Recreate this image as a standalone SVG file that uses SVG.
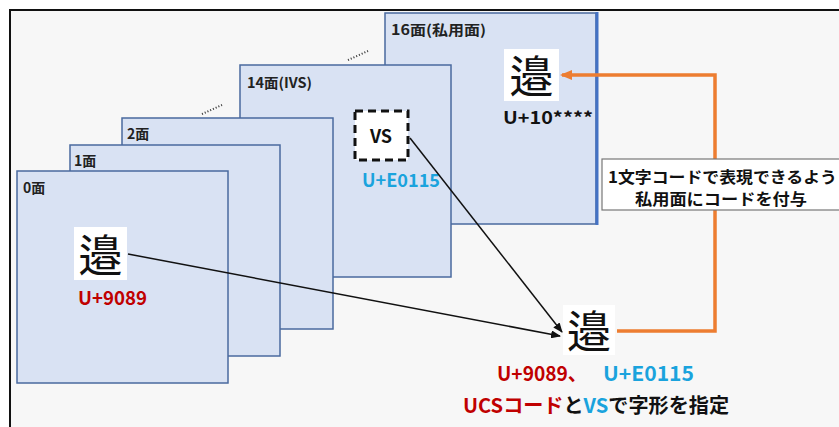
<svg xmlns="http://www.w3.org/2000/svg" width="839" height="427" viewBox="0 0 839 427">
<style>
.plane{fill:#d9e2f3;stroke:#4a6a9f;stroke-width:1.5}
.lbl{font-family:"Noto Sans CJK JP","Liberation Sans",sans-serif;font-weight:bold;font-size:14px;fill:#222}
.chbox{fill:#ffffff}
.ch{font-family:"Noto Sans CJK JP",serif;font-size:44px;fill:#111;text-anchor:middle;dominant-baseline:central}
.code{font-family:"Noto Sans CJK JP","Liberation Sans",sans-serif;font-weight:bold}
.red{fill:#c00000}
.cyan{fill:#1aa3dd}
.blk{fill:#111}
.dots{stroke:#333;stroke-width:2;stroke-dasharray:1 2}
.arrow{fill:none;stroke:#111;stroke-width:1.5}
.orange{fill:none;stroke:#ed7d31;stroke-width:3.5}
</style>
<defs>
<marker id="ah" markerWidth="10" markerHeight="8" refX="9" refY="4" orient="auto" markerUnits="userSpaceOnUse">
<path d="M0,0 L10,4 L0,8 z" fill="#111"/>
</marker>
<marker id="ahO" markerWidth="12" markerHeight="10" refX="10" refY="5" orient="auto" markerUnits="userSpaceOnUse">
<path d="M0,0 L12,5 L0,10 z" fill="#ed7d31"/>
</marker>
</defs>
<rect x="0" y="0" width="839" height="427" fill="#ffffff"/>
<rect x="10" y="10" width="840" height="430" fill="#f7f7f7" stroke="#111" stroke-width="2"/>

<g id="plane16">
<rect class="plane" x="385" y="13" width="211" height="211"/>
<line x1="597" y1="12" x2="597" y2="225" stroke="#4472c4" stroke-width="3"/>
<text class="lbl" x="391" y="35" textLength="95" lengthAdjust="spacingAndGlyphs" font-size="15">16面(私用面)</text>
<rect class="chbox" x="504" y="49" width="55" height="52"/>
<text class="ch" x="531.5" y="74">邉</text>
<text class="code blk" x="503" y="124" font-size="17" textLength="90" lengthAdjust="spacingAndGlyphs">U+10****</text>
</g>

<line id="dots1" class="dots" x1="348" y1="60" x2="368" y2="51"/>

<g id="plane14">
<rect class="plane" x="240" y="65" width="211" height="212"/>
<text class="lbl" x="247" y="88" font-size="15" textLength="65" lengthAdjust="spacingAndGlyphs">14面(IVS)</text>
<rect x="355" y="111" width="53" height="49" fill="#ffffff" stroke="#111" stroke-width="3" stroke-dasharray="8 5"/>
<text class="code blk" x="381" y="143" font-size="18" text-anchor="middle">VS</text>
<text class="code cyan" x="362" y="187" font-size="18" textLength="78" lengthAdjust="spacingAndGlyphs">U+E0115</text>
</g>

<line id="dots2" class="dots" x1="202" y1="114" x2="222" y2="105"/>

<g id="plane2">
<rect class="plane" x="122" y="118" width="211" height="211"/>
<text class="lbl" x="127" y="139">2面</text>
</g>
<g id="plane1">
<rect class="plane" x="70" y="145" width="210" height="211"/>
<text class="lbl" x="74" y="166">1面</text>
</g>
<g id="plane0">
<rect class="plane" x="17" y="171" width="211" height="212"/>
<text class="lbl" x="23" y="193">0面</text>
<rect class="chbox" x="74" y="227" width="53" height="53"/>
<text class="ch" x="100.5" y="252.5">邉</text>
<text class="code red" x="78" y="305" font-size="19" textLength="69" lengthAdjust="spacingAndGlyphs">U+9089</text>
</g>

<g id="result">
<rect class="chbox" x="563" y="305" width="52" height="50"/>
<text class="ch" x="589" y="329">邉</text>
<text class="code red" x="497" y="381" font-size="20" textLength="90" lengthAdjust="spacingAndGlyphs">U+9089、</text>
<text class="code cyan" x="603" y="381" font-size="20" textLength="91" lengthAdjust="spacingAndGlyphs">U+E0115</text>
<text class="code" x="463" y="413" font-size="20" textLength="266" lengthAdjust="spacingAndGlyphs"><tspan class="red">UCSコード</tspan><tspan class="blk">と</tspan><tspan class="cyan">VS</tspan><tspan class="blk">で字形を指定</tspan></text>
</g>

<g id="connectors">
<line class="arrow" x1="128" y1="254" x2="560" y2="336" marker-end="url(#ah)"/>
<line class="arrow" x1="410" y1="138" x2="562" y2="332" marker-end="url(#ah)"/>
<path class="orange" d="M617,331 H715 V75 H562" marker-end="url(#ahO)"/>
</g>

<g id="note">
<rect x="602" y="159" width="240" height="51" fill="#ffffff" stroke="#777" stroke-width="1.2"/>
<text class="code blk" x="608" y="183" font-size="16" textLength="229" lengthAdjust="spacingAndGlyphs">1文字コードで表現できるよう</text>
<text class="code blk" x="635" y="205" font-size="16" textLength="172" lengthAdjust="spacingAndGlyphs">私用面にコードを付与</text>
</g>
</svg>
